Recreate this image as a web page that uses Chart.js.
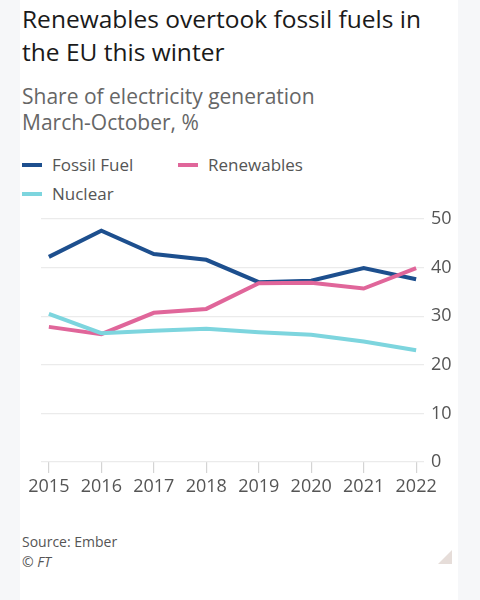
<!DOCTYPE html>
<html>
<head>
<meta charset="utf-8">
<script src="https://cdn.jsdelivr.net/npm/chart.js@4"></script>
<style>
  html, body { margin: 0; padding: 0; }
  body { width: 480px; height: 600px; background: #f6f7f9; position: relative; overflow: hidden;
         font-family: "Open Sans", "Noto Sans", sans-serif; }
  .card { position: absolute; left: 20px; top: 0; width: 438px; height: 600px; background: #fff; }
  .title { position: absolute; left: 22px; top: 2px; width: 430px; font-size: 24.5px; line-height: 33px; color: #1a1a1a; }
  .subtitle { position: absolute; left: 22px; top: 83px; font-size: 21px; line-height: 26px; color: #666; }
  .leg { position: absolute; font-size: 17px; color: #555; }
  .leg i { position: absolute; left: -30px; top: 10px; width: 20px; height: 4px; }
  .foot { position: absolute; left: 22px; top: 532px; font-size: 14px; line-height: 20px; color: #555; }
  .tri { position: absolute; left: 438px; top: 550px; width: 0; height: 0;
         border-left: 14px solid transparent; border-bottom: 14px solid #e6ddd9; }
  #wrap { position: absolute; left: 0; top: 200px; width: 480px; height: 320px; }
</style>
</head>
<body>
<div class="card"></div>
<div class="title">Renewables overtook fossil fuels in<br>the EU this winter</div>
<div class="subtitle">Share of electricity generation<br>March-October, %</div>
<div id="legend"></div>
<div id="wrap"><canvas id="chart"></canvas></div>
<div class="foot">Source: Ember<br><i>© FT</i></div>
<div class="tri"></div>
<script>
const years = [2015, 2016, 2017, 2018, 2019, 2020, 2021, 2022];
const fossil = [42.2, 47.6, 42.8, 41.6, 37.0, 37.3, 39.9, 37.6];
const renewables = [27.8, 26.3, 30.7, 31.5, 36.8, 36.9, 35.7, 39.9];
const nuclear = [30.5, 26.5, 27.0, 27.4, 26.7, 26.2, 24.8, 23.0];
const yTicks = [0, 10, 20, 30, 40, 50];

const series = [
  { label: 'Fossil Fuel', data: fossil, color: '#1d4f8e', x: 52, y: 153 },
  { label: 'Renewables', data: renewables, color: '#e0669a', x: 208, y: 153 },
  { label: 'Nuclear', data: nuclear, color: '#7dd5de', x: 52, y: 182 }
];

// legend as html, same as the FT layout
const legend = document.getElementById('legend');
series.forEach(s => {
  const d = document.createElement('div');
  d.className = 'leg';
  d.style.left = s.x + 'px';
  d.style.top = s.y + 'px';
  d.innerHTML = '<i style="background:' + s.color + '"></i>' + s.label;
  legend.appendChild(d);
});

// nuclear drawn first so the other lines sit on top
const order = [series[2], series[1], series[0]];

new Chart(document.getElementById('chart'), {
  type: 'line',
  data: {
    datasets: order.map(s => ({
      label: s.label,
      data: s.data.map((v, i) => ({ x: years[i], y: v })),
      borderColor: s.color,
      borderWidth: 4,
      pointRadius: 0,
      tension: 0,
      borderJoinStyle: 'miter'
    }))
  },
  options: {
    responsive: true,
    maintainAspectRatio: false,
    animation: false,
    layout: { padding: { left: 41, top: 19, right: 0, bottom: 0 } },
    plugins: { legend: { display: false }, tooltip: { enabled: false } },
    scales: {
      x: {
        type: 'linear',
        min: years[0] - 0.15,
        max: years[years.length - 1] + 0.15,
        afterBuildTicks: scale => { scale.ticks = years.map(v => ({ value: v })); },
        afterFit: scale => { scale.height = 58; scale.paddingLeft = 0; scale.paddingRight = 0; },
        border: { display: false },
        grid: { drawOnChartArea: false, drawTicks: true, tickLength: 11, color: '#d4d4d4', lineWidth: 1.2 },
        ticks: {
          callback: v => String(v),
          maxRotation: 0,
          autoSkip: false,
          padding: 3,
          color: '#555',
          font: { family: '"Open Sans", "Noto Sans", sans-serif', size: 18 }
        }
      },
      y: {
        position: 'right',
        min: 0,
        max: 50,
        afterBuildTicks: scale => { scale.ticks = yTicks.map(v => ({ value: v })); },
        afterFit: scale => { scale.width = 56; },
        border: { display: false },
        grid: { drawTicks: false, color: '#ebebeb', lineWidth: 1.2 },
        ticks: {
          padding: 7,
          color: '#555',
          font: { family: '"Open Sans", "Noto Sans", sans-serif', size: 18 }
        }
      }
    }
  }
});
</script>
</body>
</html>
